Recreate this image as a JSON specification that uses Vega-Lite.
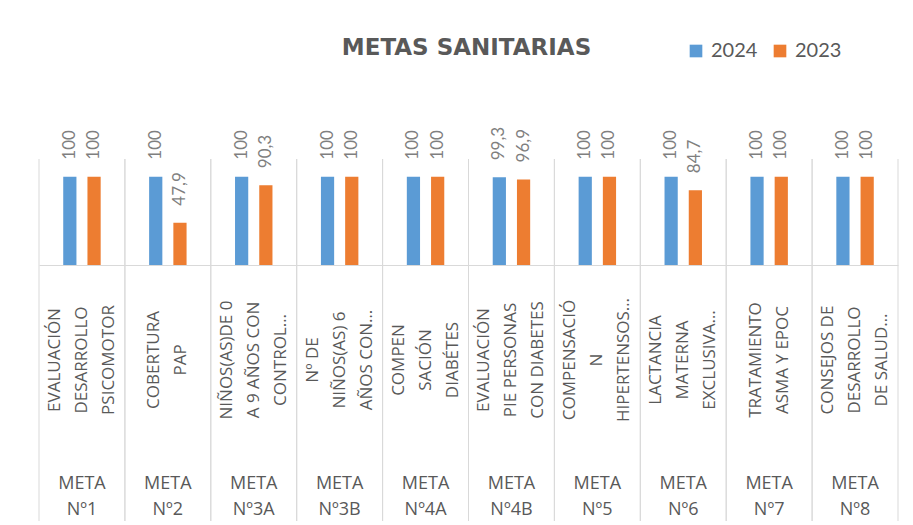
{
  "$schema": "https://vega.github.io/schema/vega-lite/v6.json",
  "padding": {"left": 38, "top": 37, "right": 5, "bottom": 0},
  "background": "white",
  "config": {
    "view": {"stroke": null},
    "locale": {"number": {"decimal": ",", "thousands": ".", "grouping": [3], "currency": ["", " €"]}}
  },
  "datasets": {
    "metas": [
      {"meta": "META Nº1", "desc": "EVALUACIÓN\nDESARROLLO\nPSICOMOTOR"},
      {"meta": "META Nº2", "desc": "COBERTURA\nPAP"},
      {"meta": "META Nº3A", "desc": "NIÑOS(AS)DE 0\nA 9 AÑOS CON\nCONTROL…"},
      {"meta": "META Nº3B", "desc": "Nº DE\nNIÑOS(AS) 6\nAÑOS CON…"},
      {"meta": "META Nº4A", "desc": "COMPEN\nSACIÓN\nDIABÉTES"},
      {"meta": "META Nº4B", "desc": "EVALUACIÓN\nPIE PERSONAS\nCON DIABETES"},
      {"meta": "META Nº5", "desc": "COMPENSACIÓ\nN\nHIPERTENSOS…"},
      {"meta": "META Nº6", "desc": "LACTANCIA\nMATERNA\nEXCLUSIVA…"},
      {"meta": "META Nº7", "desc": "TRATAMIENTO\nASMA Y EPOC"},
      {"meta": "META Nº8", "desc": "CONSEJOS DE\nDESARROLLO\nDE SALUD…"}
    ],
    "valores": [
      {"meta": "META Nº1", "year": "2024", "value": 100},
      {"meta": "META Nº1", "year": "2023", "value": 100},
      {"meta": "META Nº2", "year": "2024", "value": 100},
      {"meta": "META Nº2", "year": "2023", "value": 47.9},
      {"meta": "META Nº3A", "year": "2024", "value": 100},
      {"meta": "META Nº3A", "year": "2023", "value": 90.3},
      {"meta": "META Nº3B", "year": "2024", "value": 100},
      {"meta": "META Nº3B", "year": "2023", "value": 100},
      {"meta": "META Nº4A", "year": "2024", "value": 100},
      {"meta": "META Nº4A", "year": "2023", "value": 100},
      {"meta": "META Nº4B", "year": "2024", "value": 99.3},
      {"meta": "META Nº4B", "year": "2023", "value": 96.9},
      {"meta": "META Nº5", "year": "2024", "value": 100},
      {"meta": "META Nº5", "year": "2023", "value": 100},
      {"meta": "META Nº6", "year": "2024", "value": 100},
      {"meta": "META Nº6", "year": "2023", "value": 84.7},
      {"meta": "META Nº7", "year": "2024", "value": 100},
      {"meta": "META Nº7", "year": "2023", "value": 100},
      {"meta": "META Nº8", "year": "2024", "value": 100},
      {"meta": "META Nº8", "year": "2023", "value": 100}
    ]
  },
  "title": {
    "text": "METAS SANITARIAS",
    "anchor": "middle",
    "fontSize": 23,
    "font": "DejaVu Sans",
    "fontWeight": "bold",
    "color": "#595959",
    "offset": -19,
    "dx": -2
  },
  "spacing": 0,
  "bounds": "flush",
  "vconcat": [
    {
      "width": 859,
      "height": 106,
      "layer": [
        {
          "data": {"name": "metas"},
          "mark": {"type": "rule", "color": "#d9d9d9", "strokeWidth": 1},
          "encoding": {
            "x": {"field": "meta", "type": "nominal", "sort": ["META Nº1","META Nº2","META Nº3A","META Nº3B","META Nº4A","META Nº4B","META Nº5","META Nº6","META Nº7","META Nº8"], "bandPosition": 0, "scale": {"type": "band", "paddingInner": 0, "paddingOuter": 0}, "axis": {"title": null, "labels": false, "ticks": false, "grid": false, "domain": true, "domainColor": "#d9d9d9", "domainWidth": 1}}
          }
        },
        {
          "data": {"name": "metas"},
          "mark": {"type": "rule", "color": "#d9d9d9", "strokeWidth": 1},
          "encoding": {
            "x": {"field": "meta", "type": "nominal", "sort": ["META Nº1","META Nº2","META Nº3A","META Nº3B","META Nº4A","META Nº4B","META Nº5","META Nº6","META Nº7","META Nº8"], "bandPosition": 1, "scale": {"type": "band", "paddingInner": 0, "paddingOuter": 0}, "axis": {"title": null, "labels": false, "ticks": false, "grid": false, "domain": true, "domainColor": "#d9d9d9", "domainWidth": 1}}
          }
        },
        {
          "data": {"name": "valores"},
          "mark": {"type": "bar"},
          "encoding": {
            "x": {"field": "meta", "type": "nominal", "sort": ["META Nº1","META Nº2","META Nº3A","META Nº3B","META Nº4A","META Nº4B","META Nº5","META Nº6","META Nº7","META Nº8"], "scale": {"type": "band", "paddingInner": 0, "paddingOuter": 0}, "axis": {"title": null, "labels": false, "ticks": false, "grid": false, "domain": true, "domainColor": "#d9d9d9", "domainWidth": 1}},
            "xOffset": {"field": "year", "type": "nominal", "sort": ["2024", "2023"], "scale": {"paddingInner": 0.4545, "paddingOuter": 1.18}},
            "y": {"field": "value", "type": "quantitative", "scale": {"domain": [0, 120]}, "axis": null},
            "color": {
              "field": "year", "type": "nominal",
              "scale": {"domain": ["2024", "2023"], "range": ["#5B9BD5", "#ED7D31"]},
              "legend": {"orient": "none", "legendX": 647, "legendY": -118, "direction": "horizontal", "title": null, "symbolType": "square", "symbolSize": 160, "symbolStrokeWidth": 0, "symbolOpacity": 1, "labelFontSize": 20, "labelFont": "Lato", "labelColor": "#595959", "labelOffset": 5, "columnPadding": 12, "padding": 0}
            }
          }
        },
        {
          "data": {"name": "valores"},
          "mark": {"type": "text", "angle": 270, "align": "left", "baseline": "middle", "dx": 17, "fontSize": 17, "font": "Lato", "color": "#7f7f7f"},
          "encoding": {
            "x": {"field": "meta", "type": "nominal", "sort": ["META Nº1","META Nº2","META Nº3A","META Nº3B","META Nº4A","META Nº4B","META Nº5","META Nº6","META Nº7","META Nº8"], "scale": {"type": "band", "paddingInner": 0, "paddingOuter": 0}, "axis": {"title": null, "labels": false, "ticks": false, "grid": false, "domain": true, "domainColor": "#d9d9d9", "domainWidth": 1}},
            "xOffset": {"field": "year", "type": "nominal", "sort": ["2024", "2023"], "scale": {"paddingInner": 0.4545, "paddingOuter": 1.18}},
            "y": {"field": "value", "type": "quantitative", "scale": {"domain": [0, 120]}, "axis": null},
            "text": {"field": "value", "type": "quantitative", "format": ".1~f"}
          }
        }
      ]
    },
    {
      "width": 859,
      "height": 256,
      "data": {"name": "metas"},
      "layer": [
        {
          "mark": {"type": "rule", "color": "#d9d9d9", "strokeWidth": 1},
          "encoding": {
            "x": {"field": "meta", "type": "nominal", "sort": ["META Nº1","META Nº2","META Nº3A","META Nº3B","META Nº4A","META Nº4B","META Nº5","META Nº6","META Nº7","META Nº8"], "bandPosition": 0, "scale": {"type": "band", "paddingInner": 0, "paddingOuter": 0}, "axis": null}
          }
        },
        {
          "mark": {"type": "rule", "color": "#d9d9d9", "strokeWidth": 1},
          "encoding": {
            "x": {"field": "meta", "type": "nominal", "sort": ["META Nº1","META Nº2","META Nº3A","META Nº3B","META Nº4A","META Nº4B","META Nº5","META Nº6","META Nº7","META Nº8"], "bandPosition": 1, "scale": {"type": "band", "paddingInner": 0, "paddingOuter": 0}, "axis": null}
          }
        },
        {
          "transform": [{"filter": "length(split(datum.desc, '\\n')) == 3"}],
          "mark": {"type": "text", "angle": 270, "align": "center", "baseline": "middle", "lineBreak": "\n", "lineHeight": 27, "fontSize": 17, "font": "Open Sans", "color": "#595959", "dx": 33, "dy": -27},
          "encoding": {
            "x": {"field": "meta", "type": "nominal", "sort": ["META Nº1","META Nº2","META Nº3A","META Nº3B","META Nº4A","META Nº4B","META Nº5","META Nº6","META Nº7","META Nº8"], "scale": {"type": "band", "paddingInner": 0, "paddingOuter": 0}, "axis": null},
            "text": {"field": "desc", "type": "nominal"}
          }
        },
        {
          "transform": [{"filter": "length(split(datum.desc, '\\n')) == 2"}],
          "mark": {"type": "text", "angle": 270, "align": "center", "baseline": "middle", "lineBreak": "\n", "lineHeight": 27, "fontSize": 17, "font": "Open Sans", "color": "#595959", "dx": 33, "dy": -13.5},
          "encoding": {
            "x": {"field": "meta", "type": "nominal", "sort": ["META Nº1","META Nº2","META Nº3A","META Nº3B","META Nº4A","META Nº4B","META Nº5","META Nº6","META Nº7","META Nº8"], "scale": {"type": "band", "paddingInner": 0, "paddingOuter": 0}, "axis": null},
            "text": {"field": "desc", "type": "nominal"}
          }
        },
        {
          "mark": {"type": "text", "align": "center", "baseline": "middle", "lineBreak": " ", "lineHeight": 26, "fontSize": 18, "font": "Open Sans", "color": "#595959", "dy": 91},
          "encoding": {
            "x": {"field": "meta", "type": "nominal", "sort": ["META Nº1","META Nº2","META Nº3A","META Nº3B","META Nº4A","META Nº4B","META Nº5","META Nº6","META Nº7","META Nº8"], "scale": {"type": "band", "paddingInner": 0, "paddingOuter": 0}, "axis": null},
            "text": {"field": "meta", "type": "nominal"}
          }
        }
      ]
    }
  ]
}
